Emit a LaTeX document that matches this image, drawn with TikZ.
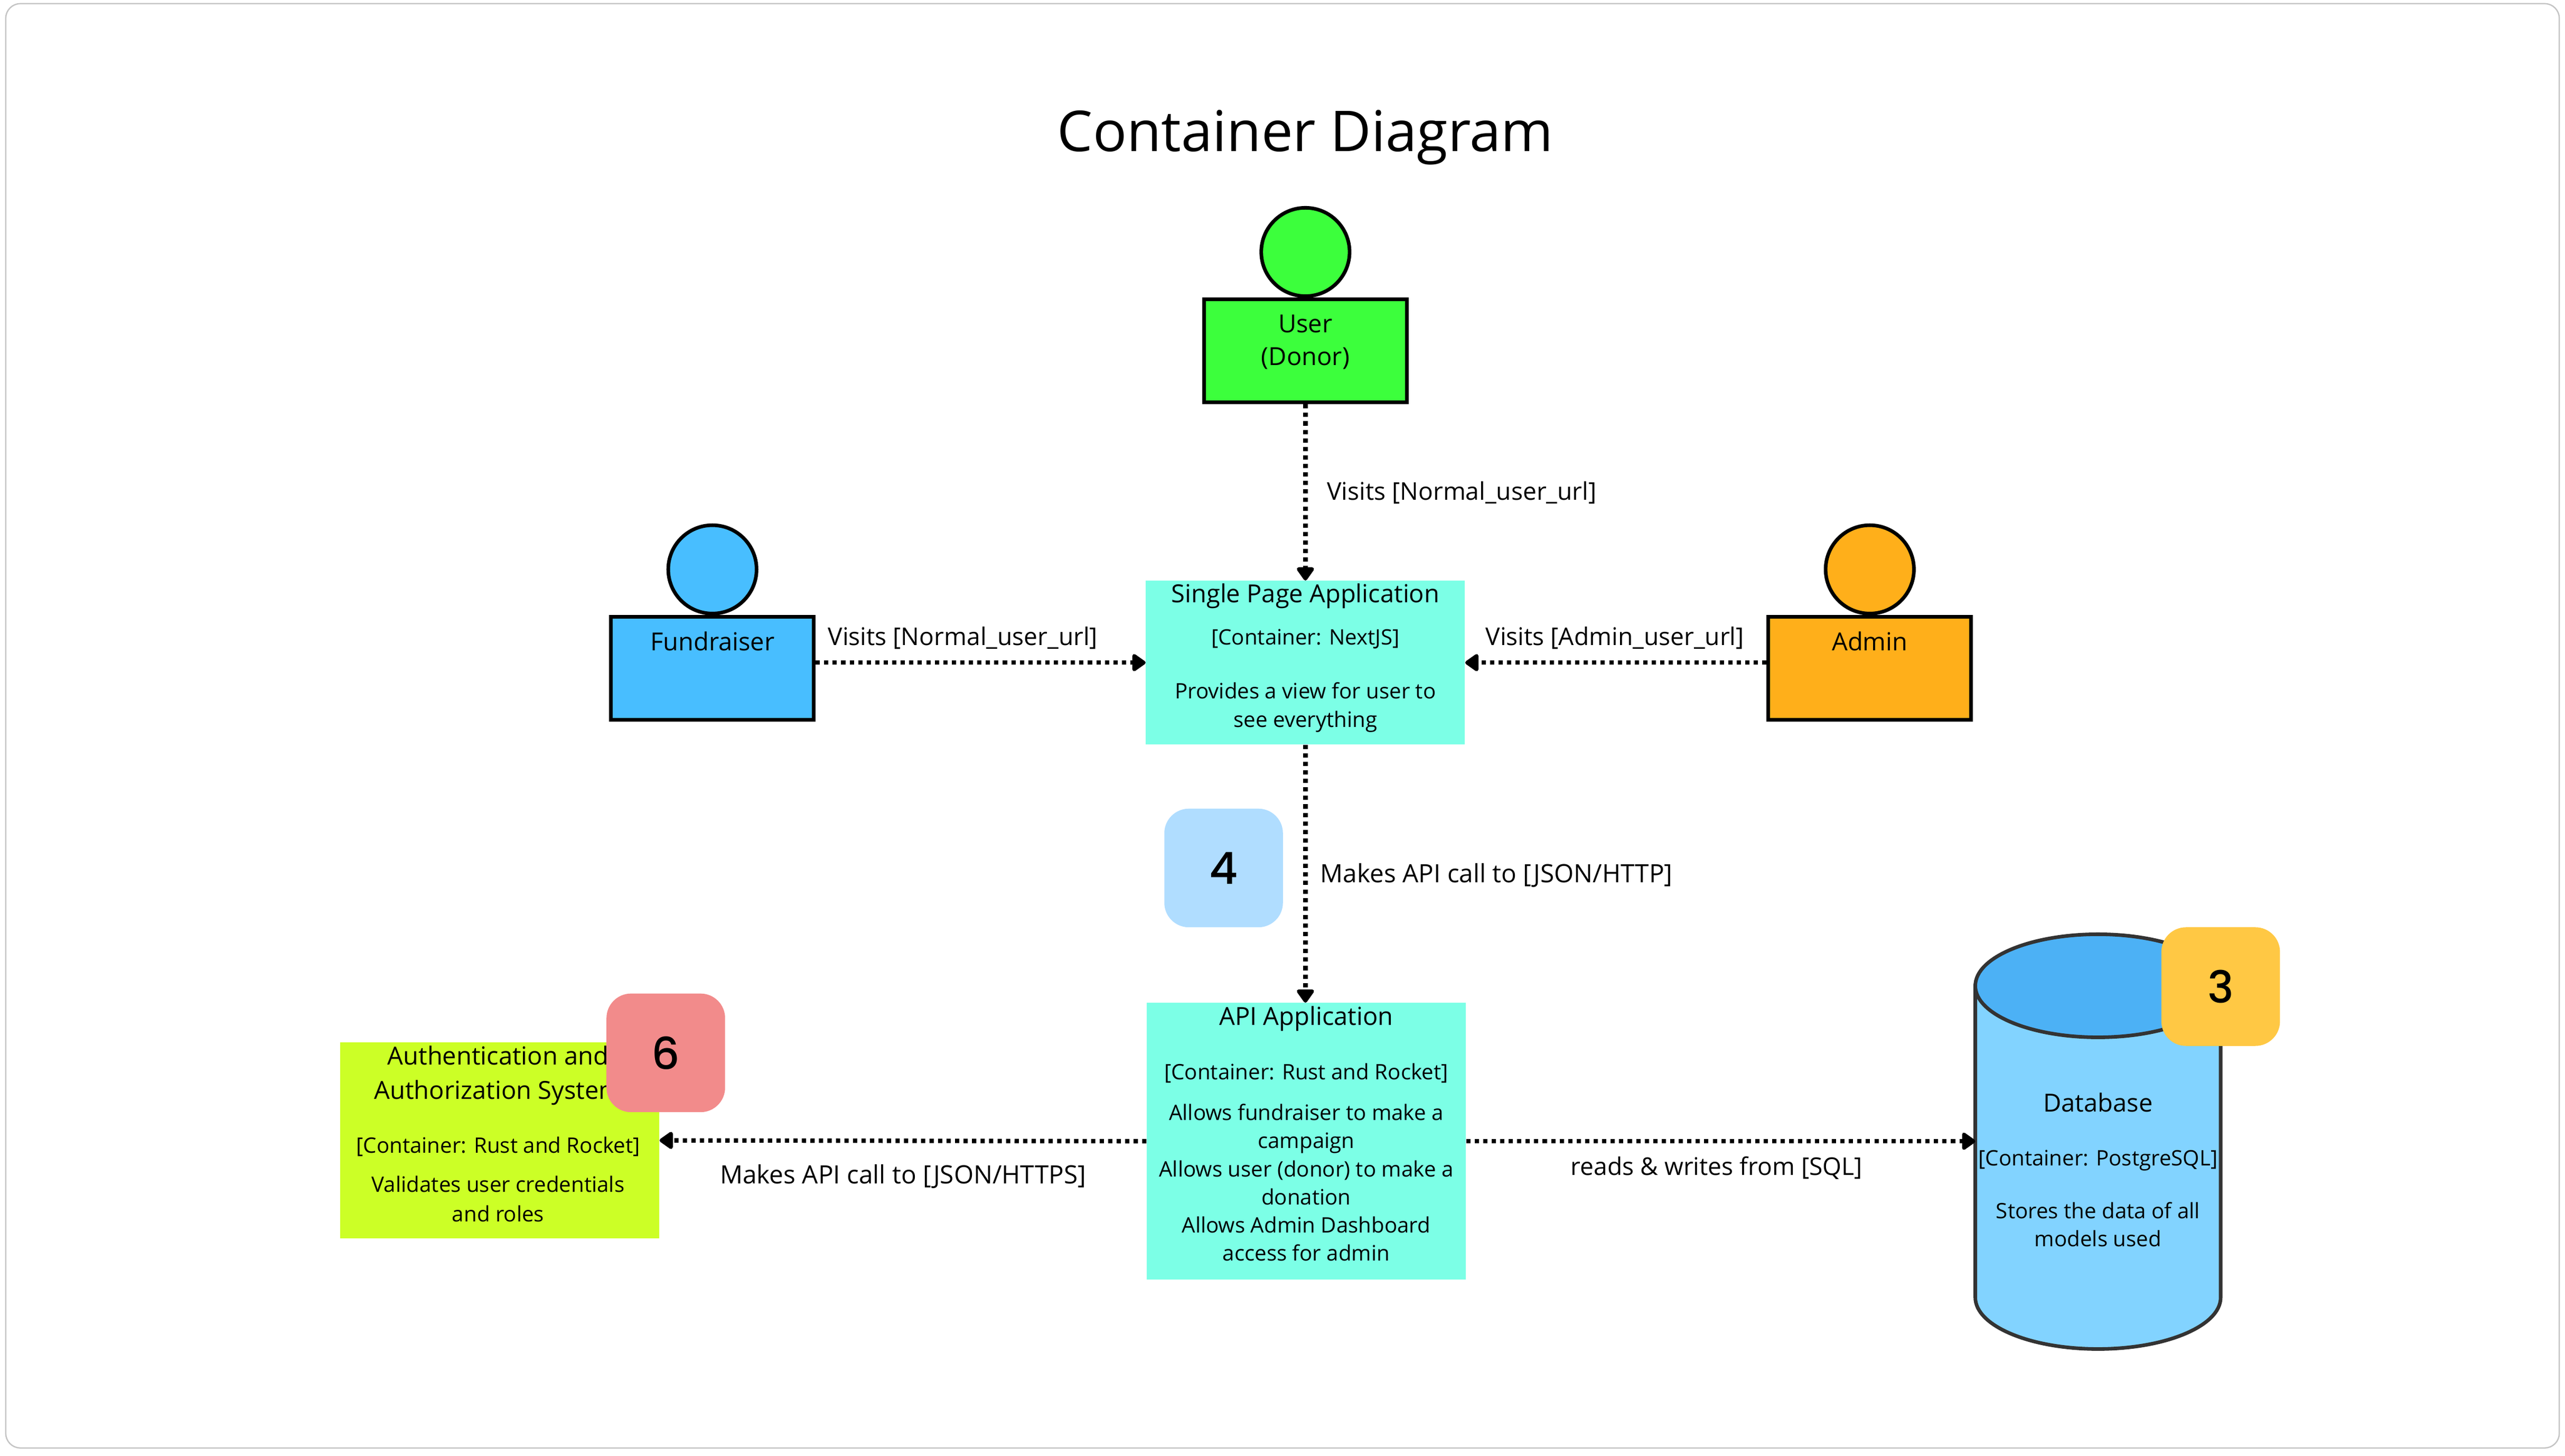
\documentclass[tikz,border=0pt]{standalone}
\usepackage{fontspec}
\setmainfont{Open Sans}
\newfontfamily\badgefont{Poppins Medium}
\usetikzlibrary{arrows.meta}
\usetikzlibrary{shapes.geometric}
\usepackage{xcolor}
\definecolor{mygreen}{HTML}{3CFF3C}
\definecolor{myblue}{HTML}{48BEFF}
\definecolor{myorange}{HTML}{FFAF1A}
\definecolor{myteal}{HTML}{7CFFE6}
\definecolor{mylime}{HTML}{CCFF26}
\definecolor{mydbbody}{HTML}{82D3FF}
\definecolor{mydbtop}{HTML}{4CB1F5}
\definecolor{mydbline}{HTML}{333333}
\definecolor{myframe}{HTML}{C4C4C4}
\definecolor{badgered}{HTML}{F28B8B}
\definecolor{badgeblue}{HTML}{B0DDFF}
\definecolor{badgeyellow}{HTML}{FFC844}
\newcommand{\headsize}{\fontsize{15.2}{17.2}\selectfont}
\tikzset{
  person head/.style={circle,draw=black,line width=2.2,minimum size=54,inner sep=0},
  person box/.style={rectangle,draw=black,line width=2.2,minimum width=124,minimum height=63,inner sep=0},
  container/.style={rectangle,minimum width=195,inner sep=0},
  badge/.style={rectangle,rounded corners=15,minimum size=72.5,inner sep=0,font=\badgefont\fontsize{27}{27}\selectfont},
  name text/.style={align=center,inner sep=0,font=\fontsize{15.2}{20}\selectfont},
  box text/.style={align=center,inner sep=0,font=\fontsize{13}{17.2}\selectfont},
  edge text/.style={inner sep=0,font=\fontsize{14.9}{18}\selectfont},
  call text/.style={inner sep=0,font=\fontsize{15.4}{18}\selectfont},
  db line/.style={draw=mydbline,line width=2.2},
  connect arrow/.style={-{Triangle[length=9,width=12,round]},line width=2.7,dash pattern=on 2.6 off 2.6,black}
}
\begin{document}
\begin{tikzpicture}[x=1pt,y=-1pt]
    \useasboundingbox (0,0) rectangle (1568,889.9);
    \draw[myframe,line width=0.8,rounded corners=9] (3.5,2.2) rectangle (1564.5,885);
    \node[font=\fontsize{34.4}{40}\selectfont,inner sep=0] (title) at (798,84) {Container Diagram};
    % people
    \node[person head,fill=mygreen] (user head) at (798,154) {};
    \node[person box,fill=mygreen] (user) at (798,214.5) {};
    \node[name text] (user text) at (798,209) {User\\(Donor)};
    \node[person head,fill=myblue] (fund head) at (435.5,348) {};
    \node[person box,fill=myblue] (fund) at (435.5,408.5) {};
    \node[name text] (fund text) at (435.5,392) {Fundraiser};
    \node[person head,fill=myorange] (admin head) at (1143,348) {};
    \node[person box,fill=myorange] (admin) at (1143,408.5) {};
    \node[name text] (admin text) at (1143,392) {Admin};
    % containers
    \node[container,fill=myteal,minimum height=100] (spa) at (798,405) {};
    \node[box text] (spa text) at (798,402) {{\headsize Single Page Application}\\[8.8]
      [Container: NextJS]\\[15.8]
      Provides a view for user to\\see everything};
    \node[container,fill=myteal,minimum height=169] (api) at (798.5,697.5) {};
    \node[box text] (api text) at (798.5,693) {{\headsize API Application}\\[15.8]
      [Container: Rust and Rocket]\hspace*{6pt}\\[7.8]
      Allows fundraiser to make a\\campaign\\
      Allows user (donor) to make a\\donation\\
      Allows Admin Dashboard\\access for admin};
    \node[container,fill=mylime,minimum height=120] (auth) at (305.5,697) {};
    \node[box text] (auth text) at (304.5,693) {{\headsize Authentication and}\\[3.8]
      {\headsize Authorization System}\\[15.8]
      [Container: Rust and Rocket]\hspace*{3pt}\\[6.8]
      Validates user credentials\\[0.8]and roles};
    % database
    \coordinate (db) at (1282.5,697.5);
    \coordinate (db west) at (1207.5,697.5);
    \draw[db line,fill=mydbbody] (1207.5,602.5) -- (1207.5,793) arc (180:0:75 and 31.5) -- (1357.5,602.5) -- cycle;
    \draw[db line,fill=mydbtop] (1282.5,602.5) ellipse (75 and 31.5);
    \node[box text] (db text) at (1282.5,715) {{\headsize Database}\\[15.8]
      [Container: PostgreSQL]\\[14.8]
      Stores the data of all\\models used};
    % connectors
    \draw[connect arrow] (user) -- (spa);
    \draw[connect arrow] (spa.west -| fund.east) -- (spa.west);
    \draw[connect arrow] (spa.east -| admin.west) -- (spa.east);
    \draw[connect arrow] (spa) -- (api.north -| spa);
    \draw[connect arrow] (api.west) -- (auth.east);
    \draw[connect arrow] (api.east) -- (db west);
    % labels
    \node[edge text,anchor=west] (visit user) at (811,301) {Visits [Normal\_user\_url]};
    \node[edge text,anchor=west] (visit fund) at (506,390) {Visits [Normal\_user\_url]};
    \node[edge text,anchor=west] (visit admin) at (908,390) {Visits [Admin\_user\_url]};
    \node[call text,anchor=west] (call api) at (807,535) {Makes API call to [JSON/HTTP]};
    \node[call text,anchor=west] (call auth) at (440,719) {Makes API call to [JSON/HTTPS]};
    \node[edge text,anchor=west] (call db) at (960,714) {reads \& writes from [SQL]};
    % badges
    \node[badge,fill=badgered] (badge six) at (407,643.5) {6};
    \node[badge,fill=badgeblue] (badge four) at (748,530.5) {4};
    \node[badge,fill=badgeyellow] (badge three) at (1357.5,603) {3};
\end{tikzpicture}
\end{document}
